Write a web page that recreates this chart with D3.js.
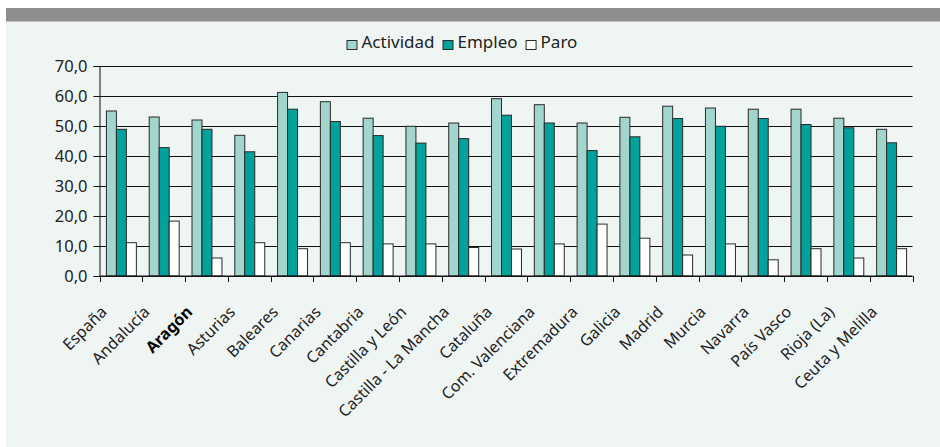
<!DOCTYPE html>
<html>
<head>
<meta charset="utf-8">
<script src="https://cdn.jsdelivr.net/npm/d3@7"></script>
<style>
  body { margin: 0; background: #fff; }
  svg { display: block; font-family: "Noto Sans", sans-serif; }
</style>
</head>
<body>
<div id="chart"></div>
<script>
// regions and rates (%)
const regions = ["España", "Andalucía", "Aragón", "Asturias", "Baleares", "Canarias",
  "Cantabria", "Castilla y León", "Castilla - La Mancha", "Cataluña", "Com. Valenciana",
  "Extremadura", "Galicia", "Madrid", "Murcia", "Navarra", "País Vasco", "Rioja (La)",
  "Ceuta y Melilla"];
const actividad = [55.0, 53.0, 52.0, 46.9, 61.2, 58.1, 52.6, 49.9, 51.0, 59.1, 57.1,
  51.0, 52.9, 56.6, 56.0, 55.6, 55.6, 52.6, 48.9];
const empleo = [48.9, 42.8, 48.9, 41.4, 55.6, 51.5, 46.8, 44.3, 45.8, 53.6, 51.0,
  41.8, 46.4, 52.5, 49.9, 52.5, 50.5, 49.4, 44.4];
const paro = [11.1, 18.3, 6.0, 11.1, 9.1, 11.1, 10.7, 10.7, 9.5, 9.0, 10.7,
  17.3, 12.6, 7.0, 10.7, 5.4, 9.1, 6.0, 9.1];
const seriesNames = ["Actividad", "Empleo", "Paro"];
const yTicks = [0, 10, 20, 30, 40, 50, 60, 70];

const colors = { Actividad: "#a2d5cd", Empleo: "#00a29b", Paro: "#ffffff" };

const W = 940, H = 447;
const svg = d3.select("#chart").append("svg")
  .attr("width", W).attr("height", H);

// panel background + grey header strip
svg.append("rect").attr("x", 6).attr("y", 8).attr("width", W - 6).attr("height", H - 8)
  .attr("fill", "#eff5f3");
svg.append("rect").attr("x", 6).attr("y", 8).attr("width", W - 6).attr("height", 13.5)
  .attr("fill", "#8e8e8e");

const data = regions.map((r, i) => ({
  region: r,
  values: [
    { key: "Actividad", value: actividad[i] },
    { key: "Empleo", value: empleo[i] },
    { key: "Paro", value: paro[i] }
  ]
}));

const x0 = d3.scaleBand().domain(regions).range([99.5, 912.5]);
const x1 = d3.scaleBand().domain(seriesNames)
  .range([x0.bandwidth() * 0.15, x0.bandwidth() * 0.85]);
const y = d3.scaleLinear().domain([0, 70]).range([275.5, 65.5]);

// gridlines
svg.append("g")
  .selectAll("line")
  .data(yTicks)
  .join("line")
  .attr("x1", 99.5).attr("x2", 912.5)
  .attr("y1", d => Math.round(y(d)) + 0.5)
  .attr("y2", d => Math.round(y(d)) + 0.5)
  .attr("stroke", "#111").attr("stroke-width", 1);

// y axis
const yAxis = svg.append("g")
  .attr("transform", "translate(99.5,0.5)")
  .call(d3.axisLeft(y).tickValues(yTicks).tickSize(6).tickPadding(6)
    .tickFormat(d => d3.format(".1f")(d).replace(".", ",")));
yAxis.select(".domain").attr("stroke", "#111");
yAxis.selectAll(".tick line").attr("stroke", "#111");
yAxis.selectAll("text")
  .style("font-family", "'Noto Sans', sans-serif")
  .style("font-size", "16.5px")
  .attr("fill", "#222");

// bars
const groups = svg.append("g")
  .selectAll("g")
  .data(data)
  .join("g")
  .attr("transform", d => `translate(${x0(d.region)},0)`);

groups.selectAll("rect")
  .data(d => d.values)
  .join("rect")
  .attr("x", d => x1(d.key) + 0.5)
  .attr("y", d => y(d.value) + 0.5)
  .attr("width", x1.bandwidth())
  .attr("height", d => y(0) - y(d.value))
  .attr("fill", d => colors[d.key])
  .attr("stroke", "#2a2a2a")
  .attr("stroke-width", 1);

// x axis line with ticks on the band edges
const xAxis = svg.append("g");
xAxis.append("line")
  .attr("x1", 99.5).attr("x2", 912.5)
  .attr("y1", y(0) + 0.5).attr("y2", y(0) + 0.5)
  .attr("stroke", "#111");
const edges = regions.map(r => x0(r)).concat([x0.range()[1]]);
xAxis.selectAll(".xt")
  .data(edges)
  .join("line")
  .attr("class", "xt")
  .attr("x1", d => Math.round(d) + 0.5).attr("x2", d => Math.round(d) + 0.5)
  .attr("y1", y(0) + 0.5).attr("y2", y(0) + 6.5)
  .attr("stroke", "#111");

xAxis.selectAll("text")
  .data(regions)
  .join("text")
  .attr("transform", d => `translate(${x0(d) + x0.bandwidth() / 2 - 13},313) rotate(-45)`)
  .attr("text-anchor", "end")
  .style("font-size", "16px")
  .style("font-weight", d => d === "Aragón" ? "bold" : "normal")
  .attr("fill", d => d === "Aragón" ? "#000" : "#222")
  .text(d => d);

// legend
const legend = svg.append("g").attr("transform", "translate(346.5,0)");
let lx = 0;
seriesNames.forEach(name => {
  legend.append("rect")
    .attr("x", lx + 0.5).attr("y", 40.5)
    .attr("width", 10).attr("height", 9)
    .attr("fill", colors[name])
    .attr("stroke", "#2a2a2a");
  const t = legend.append("text")
    .attr("x", lx + 15).attr("y", 48)
    .style("font-size", "17px")
    .attr("fill", "#222")
    .text(name);
  lx += 15 + t.node().getComputedTextLength() + 8;
});
</script>
</body>
</html>
